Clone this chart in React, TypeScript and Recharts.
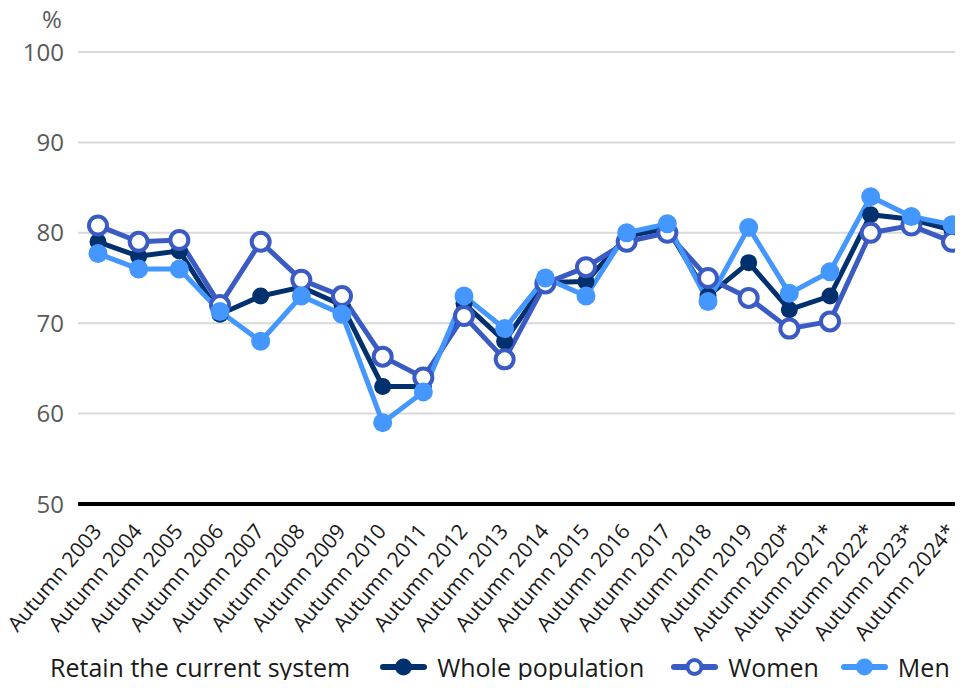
import React from 'react';
import {
  LineChart,
  Line,
  XAxis,
  YAxis,
  CartesianGrid,
  Legend,
} from 'recharts';

const categories = [
  'Autumn 2003', 'Autumn 2004', 'Autumn 2005', 'Autumn 2006', 'Autumn 2007',
  'Autumn 2008', 'Autumn 2009', 'Autumn 2010', 'Autumn 2011', 'Autumn 2012',
  'Autumn 2013', 'Autumn 2014', 'Autumn 2015', 'Autumn 2016', 'Autumn 2017',
  'Autumn 2018', 'Autumn 2019', 'Autumn 2020*', 'Autumn 2021*', 'Autumn 2022*',
  'Autumn 2023*', 'Autumn 2024*',
];

const wholePopulation = [
  79, 77.4, 78, 71, 73, 74, 72, 63, 63, 72.2, 68, 74.5, 74.6, 79.6, 80.5,
  73, 76.7, 71.5, 73, 82, 81.5, 80.3,
];

const women = [
  80.8, 79, 79.2, 72, 79, 74.8, 73, 66.3, 64, 70.8, 66, 74.4, 76.2, 79, 80,
  75, 72.8, 69.4, 70.2, 80, 80.8, 79,
];

const men = [
  77.7, 76, 76, 71.3, 68, 73, 71, 59, 62.4, 73, 69.4, 75, 73, 80, 81, 72.4,
  80.6, 73.3, 75.7, 84, 81.8, 80.9,
];

const yTicks = [50, 60, 70, 80, 90, 100];

const NAVY = '#00306e';
const WOMEN = '#3a5bc4';
const MEN = '#4397ff';
const FONT = '"Open Sans", sans-serif';

const data = categories.map((name, i) => ({
  name,
  whole: wholePopulation[i],
  women: women[i],
  men: men[i],
}));

const legendItems = [
  { label: 'Whole population', color: NAVY, hollow: false, gap: 27 },
  { label: 'Women', color: WOMEN, hollow: true, gap: 22 },
  { label: 'Men', color: MEN, hollow: false, gap: 0 },
];

const XTick = ({ x, y, payload }: any) => (
  <g transform={`translate(${x - 1},${y + 15})`}>
    <text
      x={0}
      y={0}
      dy="0.35em"
      textAnchor="end"
      transform="rotate(-50)"
      fontSize={21}
      fill="#1a1a1a"
      fontFamily={FONT}
    >
      {payload.value}
    </text>
  </g>
);

const LegendIcon = ({ color, hollow }: { color: string; hollow: boolean }) => (
  <svg width={47} height={22} style={{ display: 'block' }}>
    <line x1={3} y1={11} x2={44} y2={11} stroke={color} strokeWidth={6} strokeLinecap="round" />
    <circle
      cx={23.5}
      cy={11}
      r={hollow ? 7 : 8.5}
      fill={hollow ? '#fff' : color}
      stroke={hollow ? color : 'none'}
      strokeWidth={hollow ? 4 : 0}
    />
  </svg>
);

const renderLegend = () => (
  <div
    style={{
      display: 'flex',
      alignItems: 'center',
      paddingLeft: 50,
      paddingTop: 6,
      fontFamily: FONT,
      fontSize: 25,
      color: '#1a1a1a',
      whiteSpace: 'nowrap',
    }}
  >
    <span style={{ marginRight: 30 }}>Retain the current system</span>
    {legendItems.map((item) => (
      <span key={item.label} style={{ display: 'flex', alignItems: 'center', marginRight: item.gap }}>
        <LegendIcon color={item.color} hollow={item.hollow} />
        <span style={{ marginLeft: 10 }}>{item.label}</span>
      </span>
    ))}
  </div>
);

export default function App() {
  // pull the chart into the body margin so it lines up with the 963px frame
  return (
    <div style={{ margin: '-8px 0 -8px -8px', width: 963, height: 688, overflow: 'hidden', position: 'relative' }}>
      <LineChart
        width={972}
        height={688}
        data={data}
        margin={{ top: 52, right: 0, left: 0, bottom: 0 }}
        style={{ fontFamily: FONT }}
      >
        <CartesianGrid vertical={false} stroke="#d9d9d9" strokeWidth={2} />
        <XAxis
          dataKey="name"
          interval={0}
          height={140}
          padding={{ left: 20, right: 20 }}
          tickLine={false}
          axisLine={{ stroke: '#000', strokeWidth: 4 }}
          tick={<XTick />}
        />
        <YAxis
          domain={[50, 100]}
          ticks={yTicks}
          width={78}
          axisLine={false}
          tickLine={false}
          tickSize={0}
          tickMargin={14}
          tick={{ fontSize: 24, fill: '#595959' }}
          label={{ value: '%', position: 'top', offset: 24, dx: 13, fill: '#595959', fontSize: 24 }}
        />
        <Legend verticalAlign="bottom" height={44} content={renderLegend} wrapperStyle={{ left: 0, width: 963 }} />
        <Line
          dataKey="whole"
          name="Whole population"
          stroke={NAVY}
          strokeWidth={5}
          dot={{ r: 8.5, fill: NAVY, stroke: NAVY, strokeWidth: 0 }}
          isAnimationActive={false}
        />
        <Line
          dataKey="women"
          name="Women"
          stroke={WOMEN}
          strokeWidth={5}
          dot={{ r: 9, fill: '#fff', stroke: WOMEN, strokeWidth: 4 }}
          isAnimationActive={false}
        />
        <Line
          dataKey="men"
          name="Men"
          stroke={MEN}
          strokeWidth={5}
          dot={{ r: 9.5, fill: MEN, stroke: MEN, strokeWidth: 0 }}
          isAnimationActive={false}
        />
      </LineChart>
    </div>
  );
}
